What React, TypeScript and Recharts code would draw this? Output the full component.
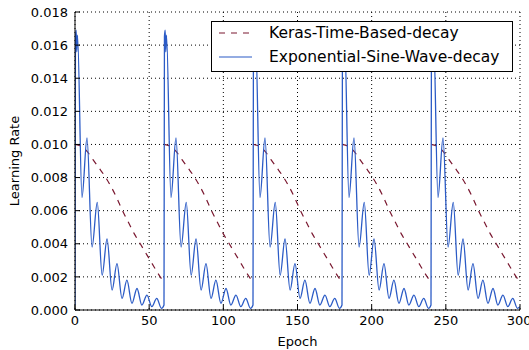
import { LineChart, Line, XAxis, YAxis, CartesianGrid, Legend } from "recharts";

// one 60-epoch restart cycle (all five cycles look the same)
const cycleStarts = [0, 60, 120, 180, 240];

const sineOffsets = [0, 0.3, 0.8, 1.2, 1.7, 4.7, 8.1, 11.5, 15.0, 18.3, 21.6, 25.0, 28.3, 31.7, 35.0, 38.4, 41.8, 45.1, 48.5, 51.8, 55.1, 58.3];
const sineValues = [0.0003, 0.0165, 0.0169, 0.0156, 0.0166, 0.0068, 0.0104, 0.0038, 0.0065, 0.0021, 0.0043, 0.0012, 0.0028, 0.0007, 0.0018, 0.0004, 0.0013, 0.0003, 0.0009, 0.0002, 0.0007, 0.0001];
const sineLast = { epoch: 300, lr: 0.0002 };

const kerasOffsets = [0, 4, 8, 12, 16, 20, 24, 28, 32, 36, 40, 44, 48, 52, 56, 59];
const kerasValues = [0.01, 0.0099, 0.0096, 0.0091, 0.0086, 0.0081, 0.0075, 0.0068, 0.006, 0.0053, 0.0046, 0.004, 0.0034, 0.0028, 0.0022, 0.0018];

const xTicks = [0, 50, 100, 150, 200, 250, 300];
const yTicks = [0, 0.002, 0.004, 0.006, 0.008, 0.01, 0.012, 0.014, 0.016, 0.018];

const sineData = cycleStarts
  .flatMap((s) => sineOffsets.map((o, i) => ({ epoch: s + o, lr: sineValues[i] })))
  .concat([sineLast]);

const kerasData = cycleStarts.flatMap((s) => [
  ...kerasOffsets.map((o, i) => ({ epoch: s + o, lr: kerasValues[i] as number | null })),
  { epoch: s + 59.5, lr: null },
]);

const FONT = "DejaVu Sans";
const BLUE = "#2b5bc6";
const MAROON = "#7a1830";

function LegendBox() {
  const row = (top: number, dash: string | undefined, color: string, text: string) => (
    <div style={{ position: "absolute", left: 0, top, height: 20, width: "100%" }}>
      <svg width={44} height={20} style={{ position: "absolute", left: 0, top: 0 }}>
        <line x1={7} y1={10} x2={40} y2={10} stroke={color} strokeWidth={1.2} strokeDasharray={dash} />
      </svg>
      <span style={{ position: "absolute", left: 57, top: 0, lineHeight: "20px", whiteSpace: "nowrap" }}>{text}</span>
    </div>
  );
  return (
    <div
      style={{
        position: "relative",
        width: 302,
        height: 51,
        boxSizing: "border-box",
        border: "1px solid #000",
        background: "#fff",
        fontFamily: FONT,
        fontSize: 15.5,
        color: "#000",
      }}
    >
      {row(1, "6 6", MAROON, "Keras-Time-Based-decay")}
      {row(25, undefined, BLUE, "Exponential-Sine-Wave-decay")}
    </div>
  );
}

export default function App() {
  return (
    <div style={{ position: "absolute", left: 0, top: 0, background: "#fff" }}>
      <LineChart
        width={529}
        height={350}
        margin={{ top: 12, right: 9, bottom: 0, left: 0 }}
        style={{ fontFamily: FONT }}
      >
        <CartesianGrid stroke="#000" strokeDasharray="1 3" ticks={xTicks as any} />
        <XAxis
          type="number"
          dataKey="epoch"
          domain={[0, 300]}
          ticks={xTicks}
          allowDataOverflow
          height={40}
          stroke="#000"
          tickSize={-5}
          tickMargin={11}
          tick={{ fill: "#000", fontSize: 13 }}
          label={{ value: "Epoch", position: "insideBottom", offset: 4, fill: "#000", fontSize: 13 }}
        />
        <XAxis
          xAxisId="top"
          orientation="top"
          type="number"
          domain={[0, 300]}
          ticks={xTicks}
          height={0}
          stroke="#000"
          tickSize={-5}
          tick={false}
        />
        <YAxis
          type="number"
          domain={[0, 0.018]}
          ticks={yTicks}
          allowDataOverflow
          width={75}
          stroke="#000"
          tickSize={-5}
          tickMargin={12}
          tickFormatter={(v: number) => v.toFixed(3)}
          tick={{ fill: "#000", fontSize: 13 }}
          label={{
            value: "Learning Rate",
            angle: -90,
            position: "insideLeft",
            offset: 14,
            fill: "#000",
            fontSize: 13,
            style: { textAnchor: "middle" },
          }}
        />
        <YAxis
          yAxisId="right"
          orientation="right"
          type="number"
          domain={[0, 0.018]}
          ticks={yTicks}
          width={0}
          stroke="#000"
          tickSize={-5}
          tick={false}
        />
        <Line
          data={kerasData}
          dataKey="lr"
          type="monotone"
          stroke={MAROON}
          strokeWidth={1.2}
          strokeDasharray="6 6"
          dot={false}
          activeDot={false}
          isAnimationActive={false}
        />
        <Line
          data={sineData}
          dataKey="lr"
          type="monotone"
          stroke={BLUE}
          strokeWidth={1.3}
          dot={false}
          activeDot={false}
          isAnimationActive={false}
        />
        <Legend
          layout="vertical"
          align="center"
          verticalAlign="middle"
          wrapperStyle={{ left: 211, top: 21, width: 302 }}
          content={() => <LegendBox />}
        />
      </LineChart>
    </div>
  );
}
